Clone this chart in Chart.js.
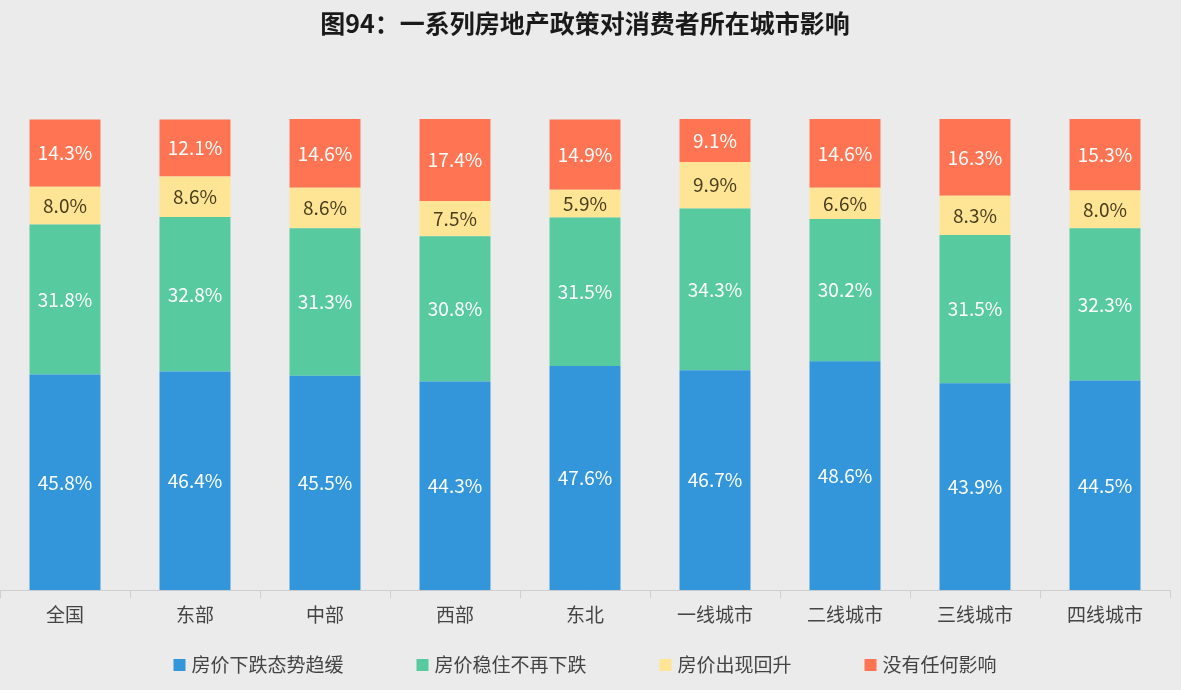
<!DOCTYPE html>
<html>
<head>
<meta charset="utf-8">
<script src="https://cdn.jsdelivr.net/npm/chart.js@4"></script>
<style>
 html, body { margin: 0; padding: 0; background: #ebebeb; }
 #wrap { width: 1181px; height: 690px; }
</style>
</head>
<body>
<div id="wrap"><canvas id="chart"></canvas></div>
<script>
const FONT = '"Noto Sans CJK SC", "Noto Sans", sans-serif';
const categories = ['全国', '东部', '中部', '西部', '东北', '一线城市', '二线城市', '三线城市', '四线城市'];
const seriesNames = ['房价下跌态势趋缓', '房价稳住不再下跌', '房价出现回升', '没有任何影响'];
const slowDown = [45.8, 46.4, 45.5, 44.3, 47.6, 46.7, 48.6, 43.9, 44.5];
const stable = [31.8, 32.8, 31.3, 30.8, 31.5, 34.3, 30.2, 31.5, 32.3];
const rebound = [8.0, 8.6, 8.6, 7.5, 5.9, 9.9, 6.6, 8.3, 8.0];
const noEffect = [14.3, 12.1, 14.6, 17.4, 14.9, 9.1, 14.6, 16.3, 15.3];
const colors = ['#3396db', '#57cb9f', '#fde595', '#ff7452'];
const labelColors = ['#ffffff', '#ffffff', '#4a3d1e', '#ffffff'];

// draws the value labels in the middle of each segment
const segmentLabels = {
 id: 'segmentLabels',
 afterDatasetsDraw(chart) {
   const ctx = chart.ctx;
   ctx.save();
   ctx.font = '19px ' + FONT;
   ctx.textAlign = 'center';
   ctx.textBaseline = 'middle';
   chart.data.datasets.forEach((ds, i) => {
     const meta = chart.getDatasetMeta(i);
     ctx.fillStyle = labelColors[i];
     meta.data.forEach((bar, j) => {
       const y = (bar.y + bar.base) / 2;
       ctx.fillText(ds.data[j].toFixed(1) + '%', bar.x, y);
     });
   });
   ctx.restore();
 }
};

// legend drawn by hand: built-in one ties item spacing to vertical padding
const wideLegend = {
 id: 'wideLegend',
 afterDraw(chart) {
   const ctx = chart.ctx;
   const box = 12, gap = 6, spacing = 73, y = 665;
   ctx.save();
   ctx.font = '19px ' + FONT;
   ctx.textBaseline = 'middle';
   const items = chart.data.datasets.map(ds => ({
     text: ds.label, color: ds.backgroundColor, w: box + gap + ctx.measureText(ds.label).width
   }));
   const total = items.reduce((s, it) => s + it.w, 0) + spacing * (items.length - 1);
   let x = (chart.chartArea.left + chart.chartArea.right) / 2 - total / 2;
   items.forEach(it => {
     ctx.fillStyle = it.color;
     ctx.fillRect(x, y - box / 2, box, box);
     ctx.fillStyle = '#444';
     ctx.fillText(it.text, x + box + gap, y);
     x += it.w + spacing;
   });
   ctx.restore();
 }
};

const seriesData = [slowDown, stable, rebound, noEffect];
new Chart(document.getElementById('chart'), {
 type: 'bar',
 data: {
   labels: categories,
   datasets: seriesNames.map((name, i) => ({
     label: name,
     data: seriesData[i],
     backgroundColor: colors[i],
     barPercentage: 0.546,
     categoryPercentage: 1
   }))
 },
 options: {
   responsive: true,
   maintainAspectRatio: false,
   animation: false,
   layout: { padding: { left: 0, right: 11, top: 0, bottom: 59 } },
   scales: {
     x: {
       stacked: true,
       grid: { offset: true, drawOnChartArea: false, tickLength: 8, color: '#cfcfcf' },
       border: { color: '#cfcfcf' },
       ticks: { color: '#444', font: { family: FONT, size: 19 }, padding: 5 }
     },
     y: { stacked: true, display: false, min: 0, max: 100 }
   },
   plugins: {
     title: {
       display: true,
       text: '图94：一系列房地产政策对消费者所在城市影响',
       color: '#1a1a1a',
       font: { family: FONT, size: 25, weight: 'bold' },
       padding: { top: 8, bottom: 81 }
     },
     legend: { display: false },
     tooltip: { enabled: false }
   }
 },
 plugins: [segmentLabels, wideLegend]
});
</script>
</body>
</html>
